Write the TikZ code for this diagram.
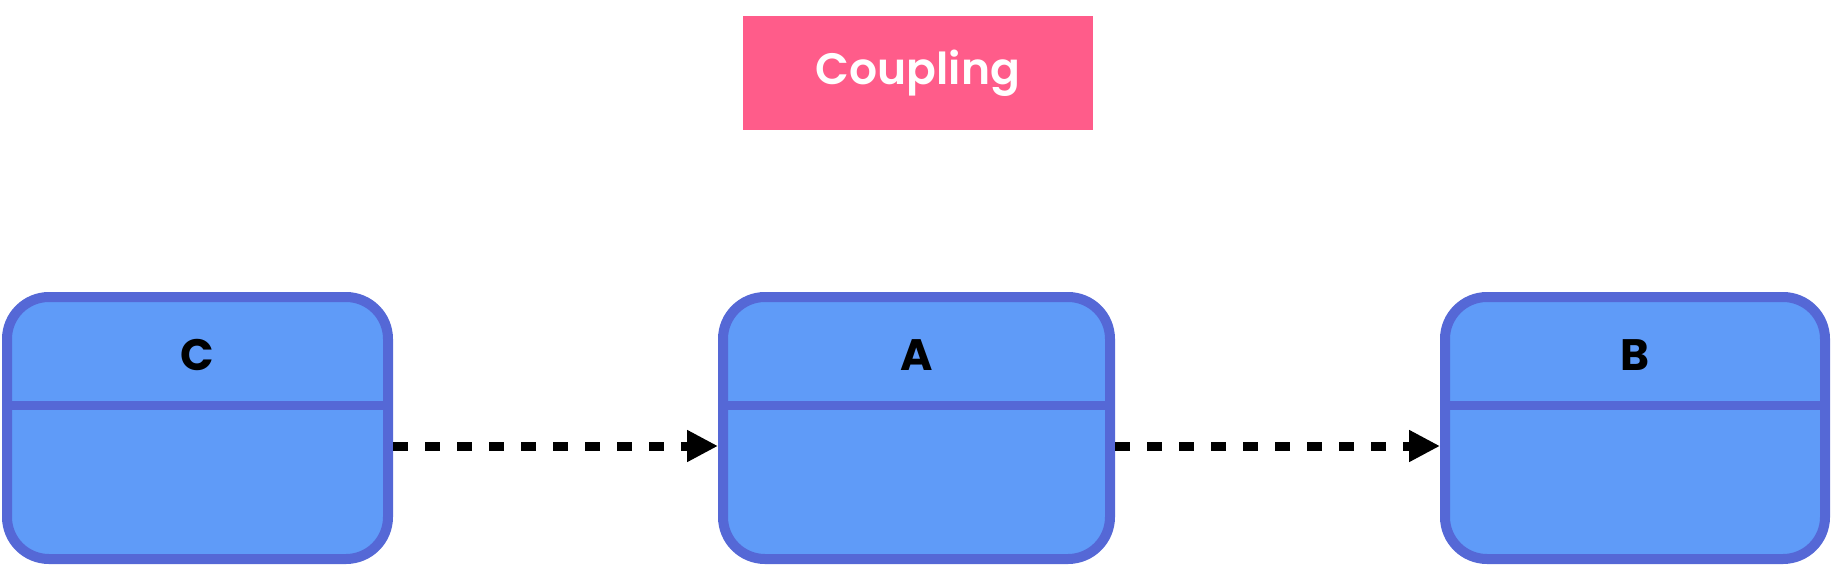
\documentclass[tikz,border=0pt]{standalone}
\usepackage{fontspec}
\setmainfont{Poppins}[BoldFont={Poppins SemiBold}]
\newfontfamily\labelfont{Poppins}
\usetikzlibrary{arrows.meta}
\definecolor{boxfill}{HTML}{5F9BF8}
\definecolor{boxline}{HTML}{5568D6}
\definecolor{pinkfill}{HTML}{FF5C8A}
\tikzset{
  classbox/.style={draw=boxline, fill=boxfill, line width=10pt, rounded corners=42pt,
    minimum height=262pt, inner sep=0pt},
  divider/.style={draw=boxline, line width=9pt},
  classname/.style={font=\labelfont\fontsize{44}{50}\selectfont\bfseries, text=black, inner sep=0pt},
  titlebox/.style={fill=pinkfill, minimum width=350pt, minimum height=114pt, inner sep=0pt,
    font=\fontsize{44}{50}\selectfont\bfseries, text=white},
  depend/.style={line width=9pt, dash pattern=on 15pt off 17pt,
    -{Triangle[length=31pt,width=30pt]}}
}
\begin{document}
\begin{tikzpicture}[x=1pt,y=-1pt]
\useasboundingbox (0,0) rectangle (1832,573);
\node[titlebox] (title) at (918,73) {Coupling};
\node[classbox, minimum width=381pt] (C) at (197.5,428) {};
\node[classbox, minimum width=387pt] (A) at (916.5,428) {};
\node[classbox, minimum width=380pt] (B) at (1635,428) {};
\foreach \n in {C,A,B}{
  \draw[divider] ([shift={(5pt,-113pt)}]\n.north west) -- ([shift={(-5pt,-113pt)}]\n.north east);
  \node[classname] (lab\n) at ([yshift=-63pt]\n.north) {\n};
}
\draw[depend] ([yshift=-18pt]C.east) -- ([yshift=-18pt]A.west);
\draw[depend] ([yshift=-18pt]A.east) -- ([yshift=-18pt]B.west);
\end{tikzpicture}
\end{document}
